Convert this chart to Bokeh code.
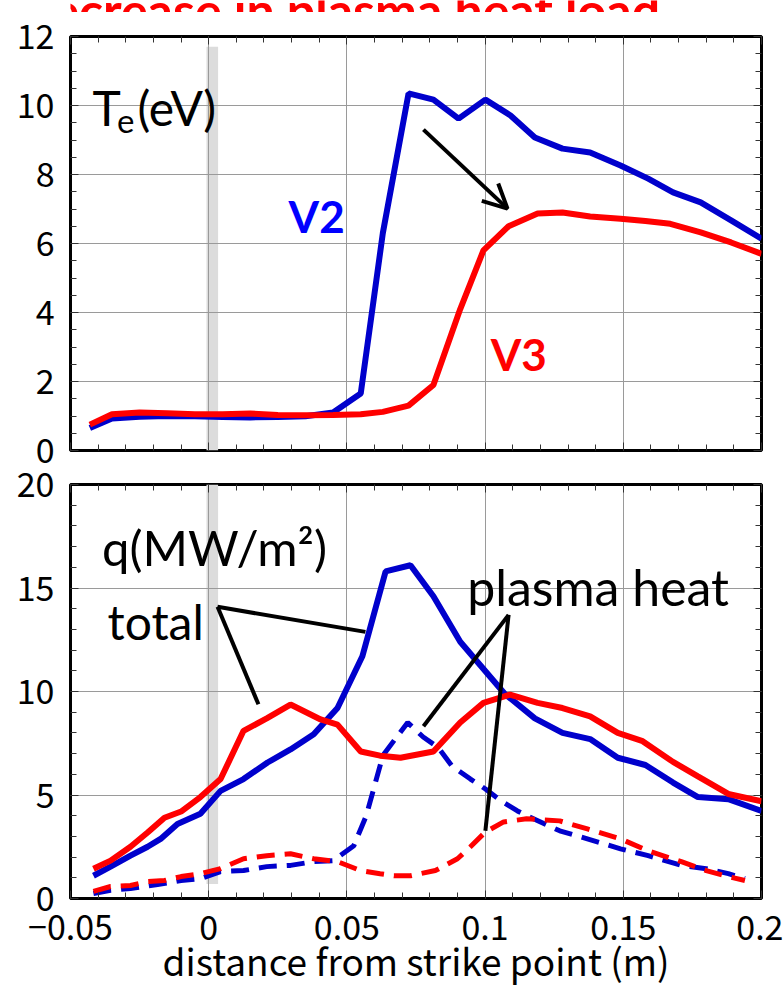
from bokeh.plotting import figure
from bokeh.layouts import column
from bokeh.models import (Range1d, LinearAxis, SingleIntervalTicker, BoxAnnotation,
                          Label, Arrow, OpenHead, CustomJSTickFormatter)
from bokeh.embed import file_html
from bokeh.resources import INLINE

# ---------------- data ----------------
# Top panel: electron temperature Te (eV)
te_v2_x = [-0.043, -0.035, -0.025, -0.015, -0.005, 0.005, 0.015, 0.025, 0.035, 0.045,
           0.055, 0.063, 0.0723, 0.0813, 0.0904, 0.1001, 0.1092, 0.118, 0.128, 0.138,
           0.149, 0.159, 0.168, 0.178, 0.189, 0.2]
te_v2_y = [0.65, 0.93, 0.98, 1.0, 0.99, 0.97, 0.96, 0.97, 0.99, 1.1,
           1.65, 6.3, 10.35, 10.17, 9.62, 10.17, 9.71, 9.07, 8.75, 8.64,
           8.26, 7.88, 7.48, 7.19, 6.67, 6.14]
te_v3_x = [-0.043, -0.035, -0.025, -0.015, -0.005, 0.005, 0.015, 0.025, 0.035, 0.045,
           0.055, 0.063, 0.0723, 0.0813, 0.091, 0.0994, 0.1085, 0.119, 0.128, 0.138,
           0.149, 0.158, 0.167, 0.178, 0.189, 0.2]
te_v3_y = [0.75, 1.05, 1.1, 1.08, 1.05, 1.05, 1.07, 1.03, 1.02, 1.03,
           1.05, 1.12, 1.3, 1.9, 4.1, 5.8, 6.5, 6.87, 6.9, 6.78,
           6.72, 6.65, 6.57, 6.32, 6.03, 5.7]

# Bottom panel: heat load q (MW/m2), total (solid) and plasma heat (dashed)
q_tot_v2_x = [-0.0417, -0.0355, -0.0283, -0.0221, -0.0174, -0.0113, -0.003, 0.0043, 0.0126,
              0.0213, 0.0296, 0.038, 0.0466, 0.0556, 0.064, 0.073, 0.0813, 0.091, 0.107,
              0.118, 0.128, 0.138, 0.148, 0.158, 0.168, 0.177, 0.188, 0.2]
q_tot_v2_y = [1.1, 1.54, 2.07, 2.5, 2.88, 3.6, 4.09, 5.2, 5.77,
              6.57, 7.2, 7.93, 9.2, 11.7, 15.8, 16.1, 14.6, 12.4, 9.9,
              8.7, 8.0, 7.7, 6.8, 6.45, 5.6, 4.9, 4.8, 4.23]
q_tot_v3_x = [-0.0417, -0.0355, -0.0283, -0.022, -0.016, -0.010, -0.003, 0.0043, 0.0126,
              0.021, 0.0296, 0.0405, 0.0466, 0.055, 0.062, 0.0694, 0.0813, 0.091, 0.0994,
              0.109, 0.119, 0.128, 0.138, 0.148, 0.157, 0.168, 0.177, 0.188, 0.2]
q_tot_v3_y = [1.44, 1.83, 2.5, 3.2, 3.9, 4.2, 4.9, 5.77, 8.1,
              8.7, 9.37, 8.65, 8.4, 7.1, 6.9, 6.8, 7.1, 8.5, 9.45,
              9.85, 9.45, 9.2, 8.8, 8.0, 7.6, 6.6, 5.9, 5.05, 4.7]
q_pl_v2_x = [-0.0417, -0.0355, -0.0283, -0.0185, -0.010, -0.003, 0.0043, 0.0126, 0.021,
             0.0296, 0.038, 0.045, 0.0525, 0.057, 0.063, 0.068, 0.072, 0.0776, 0.083,
             0.088, 0.0947, 0.1, 0.106, 0.1117, 0.1175, 0.127, 0.137, 0.149, 0.159,
             0.171, 0.18, 0.188, 0.194]
q_pl_v2_y = [0.24, 0.4, 0.48, 0.67, 0.87, 0.96, 1.3, 1.35, 1.54,
             1.6, 1.78, 1.83, 2.55, 4.0, 6.9, 7.8, 8.5, 7.8, 7.3,
             6.4, 5.77, 5.3, 4.7, 4.23, 3.85, 3.27, 2.88, 2.4, 2.07,
             1.6, 1.44, 1.2, 0.96]
q_pl_v3_x = [-0.0417, -0.0355, -0.0283, -0.022, -0.016, -0.010, -0.003, 0.0043, 0.0126,
             0.021, 0.0296, 0.038, 0.0466, 0.055, 0.062, 0.067, 0.073, 0.082, 0.090,
             0.0947, 0.1, 0.1067, 0.115, 0.127, 0.137, 0.149, 0.159, 0.171, 0.18,
             0.188, 0.194]
q_pl_v3_y = [0.34, 0.58, 0.63, 0.82, 0.87, 1.06, 1.2, 1.44, 1.92,
             2.07, 2.16, 1.92, 1.78, 1.35, 1.2, 1.1, 1.1, 1.35, 1.92,
             2.5, 3.2, 3.7, 3.85, 3.75, 3.36, 2.88, 2.3, 1.78, 1.35,
             1.06, 0.87]

x_limits = (-0.05, 0.2)
te_limits = (0, 12)
q_limits = (0, 20)
x_title = "distance from strike point (m)"
title_text = "Due to decrease in plasma heat load"

# ---------------- styling ----------------
BLUE = "#0000cc"
RED = "#ff0000"
TXT = "Lato"
NUM = "Noto Sans CJK JP"
W = 783
STRIP_H = 12           # strip holding the cut-off slide title
SPLIT = 467            # page row where the two panels meet
TOP_H = SPLIT - STRIP_H
BOT_H = 989 - SPLIT

fmt = CustomJSTickFormatter(code="""
    const v = Math.round(tick * 1000) / 1000;
    return v.toString().replace('-', '\\u2212');
""")
blank = CustomJSTickFormatter(code="return '';")


def style(p, yint, yminor, show_x_labels):
    xt = SingleIntervalTicker(interval=0.05, num_minor_ticks=5)
    yt = SingleIntervalTicker(interval=yint, num_minor_ticks=yminor)
    xa, ya = p.below[0], p.left[0]
    xa.ticker = xt
    ya.ticker = yt
    xa.formatter = fmt
    for ax in (xa, ya):
        ax.axis_line_color = None
        ax.major_tick_in = 8
        ax.major_tick_out = 0
        ax.minor_tick_in = 6
        ax.minor_tick_out = 0
        ax.major_tick_line_color = "#333333"
        ax.minor_tick_line_color = "#333333"
        ax.major_label_text_font = NUM
        ax.major_label_text_font_size = "34px"
        ax.major_label_text_color = "black"
    xa.major_label_standoff = 16
    ya.major_label_standoff = 16
    if not show_x_labels:
        xa.formatter = blank
        xa.major_label_standoff = 0
    for side, tk in (("above", xt), ("right", yt)):
        ax = LinearAxis(ticker=tk, formatter=blank, axis_line_color=None,
                        major_tick_in=8, major_tick_out=0, minor_tick_in=6, minor_tick_out=0,
                        major_tick_line_color="#333333", minor_tick_line_color="#333333",
                        major_label_standoff=0)
        p.add_layout(ax, side)
    p.xgrid.grid_line_color = "#9a9a9a"
    p.ygrid.grid_line_color = "#9a9a9a"
    p.outline_line_color = "black"
    p.outline_line_width = 3
    p.outline_line_alpha = 1.0
    p.background_fill_color = "white"
    p.border_fill_color = "white"


# ---------------- strip with the cut-off slide title ----------------
strip = figure(width=W, height=STRIP_H, x_range=Range1d(0, W), y_range=Range1d(0, STRIP_H),
               x_axis_type=None, y_axis_type=None, output_backend="svg", toolbar_location=None,
               min_border=0, min_border_left=0, min_border_right=0, min_border_top=0,
               min_border_bottom=0, outline_line_color=None)
strip.grid.visible = False
strip.add_layout(Label(x=668, y=STRIP_H - 9, text=title_text, text_font=TXT, text_font_size="50px",
                       text_font_style="bold", text_color=RED, text_align="right",
                       text_baseline="alphabetic"))

# ---------------- top panel ----------------
top = figure(width=W, height=TOP_H, x_range=Range1d(*x_limits), y_range=Range1d(*te_limits),
             output_backend="svg", toolbar_location=None,
             min_border_left=70, min_border_right=22, min_border_top=36 - STRIP_H,
             min_border_bottom=SPLIT - 450)
style(top, 2, 4, False)

top.add_layout(BoxAnnotation(left=-0.0008, right=0.0034, bottom=0, top=11.7,
                             fill_color="#dcdcdc", fill_alpha=1, line_color=None, level="image"))

top.line(te_v2_x, te_v2_y, line_color=BLUE, line_width=6)
top.line(te_v3_x, te_v3_y, line_color=RED, line_width=6)

top.add_layout(Arrow(end=OpenHead(size=24, line_width=4, line_color="black"),
                     x_start=0.0777, y_start=9.30, x_end=0.1081, y_end=7.01,
                     line_width=4, line_color="black"))

top.add_layout(Label(x=-0.0420, y=9.94, text="T", text_font=TXT, text_font_size="48px",
                     text_color="black", text_baseline="alphabetic"))
top.add_layout(Label(x=-0.0332, y=9.54, text="e", text_font=TXT, text_font_size="33px",
                     text_color="black", text_baseline="alphabetic"))
top.add_layout(Label(x=-0.0258, y=9.94, text="(eV)", text_font=TXT, text_font_size="48px",
                     text_color="black", text_baseline="alphabetic"))
top.add_layout(Label(x=0.0289, y=6.81, text="V2", text_font=TXT, text_font_size="44px",
                     text_font_style="bold", text_color="#0000ff", text_baseline="alphabetic"))
top.add_layout(Label(x=0.1020, y=2.81, text="V3", text_font=TXT, text_font_size="44px",
                     text_font_style="bold", text_color=RED, text_baseline="alphabetic"))

# ---------------- bottom panel ----------------
bot = figure(width=W, height=BOT_H, x_range=Range1d(*x_limits), y_range=Range1d(*q_limits),
             output_backend="svg", toolbar_location=None,
             min_border_left=70, min_border_right=22, min_border_top=484 - SPLIT,
             min_border_bottom=89)
style(bot, 5, 5, True)
xb = bot.below[0]
xb.axis_label = x_title
xb.axis_label_text_font = NUM
xb.axis_label_text_font_size = "37px"
xb.axis_label_text_font_style = "normal"
xb.axis_label_text_color = "black"
xb.axis_label_standoff = -10

bot.add_layout(BoxAnnotation(left=-0.0008, right=0.0034, bottom=0.7, top=20,
                             fill_color="#dcdcdc", fill_alpha=1, line_color=None, level="image"))

bot.line(q_pl_v2_x, q_pl_v2_y, line_color=BLUE, line_width=5, line_dash="18 10")
bot.line(q_pl_v3_x, q_pl_v3_y, line_color=RED, line_width=5, line_dash="18 10")
bot.line(q_tot_v2_x, q_tot_v2_y, line_color=BLUE, line_width=6)
bot.line(q_tot_v3_x, q_tot_v3_y, line_color=RED, line_width=6)

for xs, ys, xe, ye in ((0.0032, 14.09, 0.0567, 12.88),
                       (0.0032, 14.09, 0.0180, 9.38),
                       (0.1085, 13.70, 0.0777, 8.32),
                       (0.1085, 13.70, 0.1001, 3.27)):
    bot.add_layout(Arrow(end=None, x_start=xs, y_start=ys, x_end=xe, y_end=ye,
                         line_width=4, line_color="black"))

bot.add_layout(Label(x=-0.0386, y=16.97, text="q(MW/m\u00b2)", text_font=TXT,
                     text_font_size="49px", text_color="black", text_baseline="alphabetic"))
bot.add_layout(Label(x=-0.0366, y=13.37, text="total", text_font=TXT,
                     text_font_size="48px", text_color="black", text_baseline="alphabetic"))
bot.add_layout(Label(x=0.0935, y=15.05, text="plasma heat", text_font=TXT,
                     text_font_size="50px", text_color="black", text_baseline="alphabetic"))

layout = column(strip, top, bot, spacing=0)
open("out.html", "w").write(file_html(layout, INLINE))
